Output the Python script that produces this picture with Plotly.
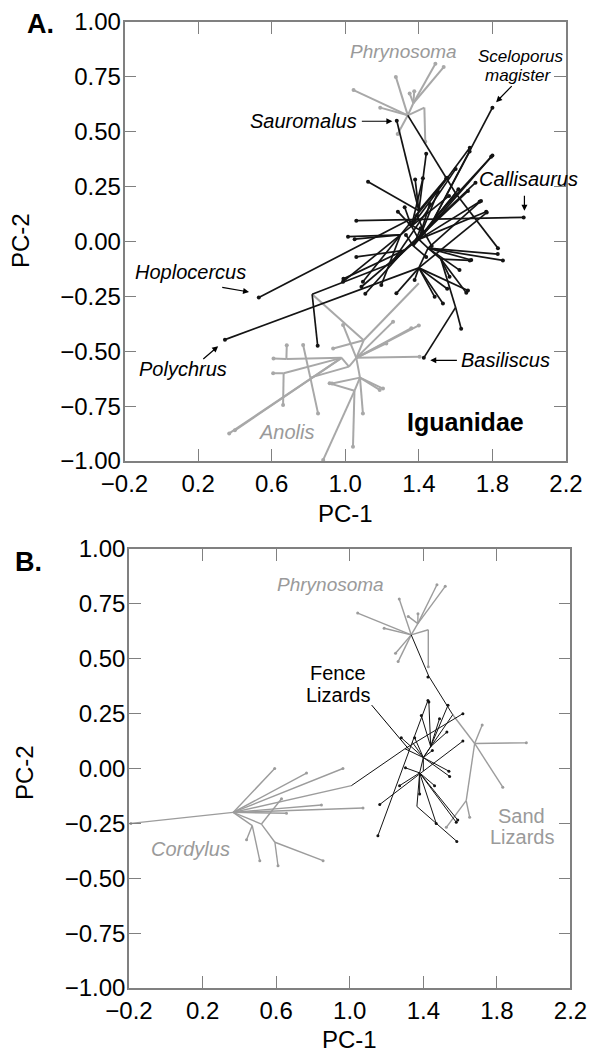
import plotly.graph_objects as go

# ---- Panel A (Iguanidae) : branches as (x0, y0, x1, y1) in PC space ----
# internal branches (no tip marker)
A_IGUANID_INTERNAL = [
    (1.40, 0.01, 1.36, 0.07), (1.40, 0.01, 1.45, -0.03), (1.40, 0.01, 1.32, -0.04),
    (1.36, 0.07, 1.40, 0.14), (1.36, 0.07, 1.35, 0.10), (1.36, 0.07, 1.30, 0.03),
    (1.45, -0.03, 1.52, -0.08), (1.45, -0.03, 1.40, -0.12), (1.40, 0.01, 1.48, 0.10),
    (1.34, 0.575, 1.60, 0.22), (1.60, 0.22, 1.48, 0.10), (1.52, -0.08, 1.60, -0.30),
    (1.32, -0.04, 1.25, -0.10), (1.25, -0.10, 0.82, -0.24),
    (1.40, 0.01, 1.43, 0.04), (1.40, 0.01, 1.37, -0.02),
]
# terminal branches (tip marker at second point)
A_IGUANID_LEAVES = [
    (1.48, 0.10, 1.80, 0.61), (1.48, 0.10, 1.793, 0.386), (1.48, 0.10, 1.676, 0.41),
    (1.60, 0.22, 1.83, -0.03),
    (1.40, 0.14, 1.28, 0.55), (1.40, 0.14, 1.44, 0.40), (1.40, 0.14, 1.124, 0.272),
    (1.40, 0.14, 1.549, 0.288), (1.40, 0.14, 1.38, 0.283),
    (1.35, 0.10, 1.97, 0.11), (1.35, 0.10, 1.06, 0.095), (1.35, 0.10, 0.53, -0.255),
    (1.36, 0.07, 1.286, 0.136), (1.36, 0.07, 1.323, 0.156), (1.36, 0.07, 1.422, 0.288),
    (1.36, 0.07, 1.677, 0.427), (1.36, 0.07, 1.564, 0.208),
    (1.30, 0.03, 1.015, 0.022), (1.30, 0.03, 1.096, -0.183), (1.30, 0.03, 0.988, -0.183),
    (1.30, 0.03, 1.196, -0.198), (1.30, 0.03, 1.554, 0.291), (1.30, 0.03, 1.051, 0.011),
    (1.40, 0.01, 1.459, 0.171), (1.40, 0.01, 1.504, 0.227), (1.40, 0.01, 1.73, 0.181),
    (1.40, 0.01, 1.766, 0.136), (1.40, 0.01, 1.80, 0.392), (1.40, 0.01, 1.615, 0.238),
    (1.43, 0.04, 1.35, 0.08), (1.43, 0.04, 1.47, -0.02), (1.43, 0.04, 1.39, 0.12),
    (1.37, -0.02, 1.33, 0.03), (1.37, -0.02, 1.44, -0.07), (1.37, -0.02, 1.41, 0.06),
    (1.45, -0.03, 1.829, -0.057), (1.45, -0.03, 1.685, -0.084), (1.45, -0.03, 1.621, -0.13),
    (1.45, -0.03, 1.857, -0.086), (1.45, -0.03, 1.738, 0.185),
    (1.52, -0.08, 1.567, -0.16), (1.52, -0.08, 1.658, -0.233), (1.52, -0.08, 1.677, -0.086),
    (1.60, -0.30, 1.427, -0.53), (1.60, -0.30, 1.63, -0.397),
    (1.40, -0.12, 0.346, -0.447), (1.40, -0.12, 1.278, -0.236), (1.40, -0.12, 1.377, -0.175),
    (1.40, -0.12, 1.486, -0.252), (1.40, -0.12, 1.531, -0.282), (1.40, -0.12, 1.554, -0.215),
    (1.40, -0.12, 1.667, -0.223), (1.40, -0.12, 1.769, 0.132),
    (1.32, -0.04, 1.06, -0.07), (1.32, -0.04, 1.109, -0.238), (1.32, -0.04, 0.99, -0.17),
    (1.32, -0.04, 1.708, 0.268), (1.32, -0.04, 1.088, -0.206),
    (1.25, -0.10, 1.667, 0.23), (1.25, -0.10, 1.60, 0.33),
    (0.82, -0.24, 0.85, -0.475),
]

A_ANOLIS_INTERNAL = [
    (0.82, -0.24, 1.10, -0.45), (1.10, -0.45, 1.06, -0.53), (1.06, -0.53, 1.02, -0.57),
    (1.06, -0.53, 1.08, -0.62), (1.02, -0.57, 0.98, -0.53), (1.08, -0.62, 1.05, -0.68),
    (1.10, -0.45, 1.40, -0.19), (0.98, -0.53, 0.68, -0.535), (0.98, -0.53, 0.665, -0.60),
    (1.02, -0.57, 0.81, -0.62),
]
A_ANOLIS_LEAVES = [
    (0.98, -0.53, 0.369, -0.874), (0.98, -0.53, 0.40, -0.86),
    (0.68, -0.535, 0.61, -0.533), (0.68, -0.535, 0.682, -0.473),
    (0.665, -0.60, 0.608, -0.60), (0.665, -0.60, 0.662, -0.745),
    (0.81, -0.62, 0.771, -0.471), (0.81, -0.62, 0.852, -0.783),
    (1.06, -0.53, 0.988, -0.38), (1.06, -0.53, 1.26, -0.365), (1.06, -0.53, 1.359, -0.395),
    (1.06, -0.53, 1.40, -0.382), (1.06, -0.53, 1.404, -0.525), (1.06, -0.53, 1.223, -0.464),
    (1.08, -0.62, 1.187, -0.676), (1.08, -0.62, 1.205, -0.67), (1.08, -0.62, 0.928, -0.647),
    (1.08, -0.62, 1.096, -0.783),
    (1.05, -0.68, 1.042, -0.935), (1.05, -0.68, 0.88, -0.995), (1.05, -0.68, 0.915, -0.646),
    (1.10, -0.45, 0.934, -0.487),
]

A_PHRYNO_INTERNAL = [
    (1.34, 0.575, 1.37, 0.63), (1.34, 0.575, 1.43, 0.61),
]
A_PHRYNO_LEAVES = [
    (1.34, 0.575, 1.045, 0.69), (1.34, 0.575, 1.275, 0.75), (1.34, 0.575, 1.19, 0.61),
    (1.34, 0.575, 1.285, 0.49),
    (1.37, 0.63, 1.49, 0.81), (1.37, 0.63, 1.535, 0.795), (1.37, 0.63, 1.375, 0.685),
    (1.37, 0.63, 1.35, 0.675),
    (1.43, 0.61, 1.435, 0.455),
]

# ---- Panel B ----
B_PHRYNO_INTERNAL = [
    (1.334, 0.609, 1.37, 0.66), (1.334, 0.609, 1.427, 0.632),
]
B_PHRYNO_LEAVES = [
    (1.334, 0.609, 1.043, 0.708), (1.334, 0.609, 1.269, 0.772), (1.334, 0.609, 1.187, 0.639),
    (1.334, 0.609, 1.249, 0.525), (1.334, 0.609, 1.263, 0.487),
    (1.37, 0.66, 1.474, 0.837), (1.37, 0.66, 1.519, 0.83), (1.37, 0.66, 1.371, 0.705),
    (1.37, 0.66, 1.318, 0.693),
    (1.427, 0.632, 1.427, 0.464),
]

B_FENCE_INTERNAL = [
    (1.334, 0.609, 1.43, 0.42), (1.43, 0.42, 1.56, 0.245), (1.56, 0.245, 1.40, 0.05),
    (1.009, -0.078, 1.30, 0.09), (1.30, 0.09, 1.40, 0.05), (1.40, -0.012, 1.40, 0.05),
    (1.40, 0.05, 1.38, -0.02), (1.40, 0.05, 1.44, 0.10), (1.34, 0.12, 1.40, 0.05),
    (1.38, -0.02, 1.365, -0.173),
]
B_FENCE_LEAVES = [
    (1.30, 0.09, 1.615, 0.25),
    (1.40, -0.012, 1.163, -0.164), (1.40, -0.012, 1.615, 0.125),
    (1.34, 0.12, 1.153, -0.306), (1.34, 0.12, 1.425, 0.31),
    (1.365, -0.173, 1.582, -0.332),
    (1.38, -0.02, 1.38, -0.116), (1.38, -0.02, 1.271, -0.078), (1.38, -0.02, 1.303, 0.003),
    (1.38, -0.02, 1.461, -0.078), (1.38, -0.02, 1.47, -0.25), (1.38, -0.02, 1.579, -0.245),
    (1.38, -0.02, 1.587, -0.235),
    (1.40, 0.05, 1.543, -0.036), (1.40, 0.05, 1.539, -0.012), (1.40, 0.05, 1.28, 0.14),
    (1.40, 0.05, 1.353, 0.14), (1.40, 0.05, 1.449, 0.082),
    (1.44, 0.10, 1.389, 0.242), (1.44, 0.10, 1.43, 0.303), (1.44, 0.10, 1.488, 0.227),
    (1.44, 0.10, 1.534, 0.288), (1.44, 0.10, 1.528, 0.166),
    (1.43, 0.42, 1.425, 0.417),
]

B_SAND_INTERNAL = [
    (1.56, 0.245, 1.679, 0.114), (1.679, 0.114, 1.633, -0.146),
]
B_SAND_LEAVES = [
    (1.679, 0.114, 1.96, 0.117), (1.679, 0.114, 1.72, 0.198), (1.679, 0.114, 1.832, -0.085),
    (1.633, -0.146, 1.525, -0.268), (1.633, -0.146, 1.652, -0.222),
]

B_CORDYLUS_INTERNAL = [
    (0.366, -0.2, 1.009, -0.078), (0.366, -0.2, 0.47, -0.26), (0.366, -0.2, 0.52, -0.253),
    (0.52, -0.253, 0.593, -0.336),
]
B_CORDYLUS_LEAVES = [
    (0.366, -0.2, -0.19, -0.25), (0.366, -0.2, 0.592, 0.0), (0.366, -0.2, 0.765, -0.021),
    (0.366, -0.2, 0.963, 0.0), (0.366, -0.2, 0.846, -0.166), (0.366, -0.2, 1.072, -0.18),
    (0.366, -0.2, 0.656, -0.204),
    (0.47, -0.26, 0.439, -0.325), (0.47, -0.26, 0.511, -0.42),
    (0.52, -0.253, 0.629, -0.138),
    (0.593, -0.336, 0.855, -0.42), (0.593, -0.336, 0.61, -0.443),
]

X_TICKS = [-0.2, 0.2, 0.6, 1.0, 1.4, 1.8, 2.2]
Y_TICKS = [-1.0, -0.75, -0.5, -0.25, 0.0, 0.25, 0.5, 0.75, 1.0]

BLACK = "#141414"
GREY = "#a8a8a8"
GREY_B = "#9c9c9c"
TEXT_GREY = "#9a9a9a"
AXIS_GREY = "#808080"
FONT = "Arial, Liberation Sans, sans-serif"


def add_tree(fig, internal, leaves, color, width, tip, xa, ya):
    xs, ys = [], []
    for x0, y0, x1, y1 in internal + leaves:
        xs += [x0, x1, None]
        ys += [y0, y1, None]
    fig.add_trace(go.Scatter(x=xs, y=ys, mode="lines", line=dict(color=color, width=width),
                             xaxis=xa, yaxis=ya, hoverinfo="skip"))
    fig.add_trace(go.Scatter(x=[e[2] for e in leaves], y=[e[3] for e in leaves], mode="markers",
                             marker=dict(color=color, size=tip), xaxis=xa, yaxis=ya,
                             hoverinfo="skip"))


fig = go.Figure()
add_tree(fig, A_ANOLIS_INTERNAL, A_ANOLIS_LEAVES, GREY, 2.0, 4, "x", "y")
add_tree(fig, A_PHRYNO_INTERNAL, A_PHRYNO_LEAVES, GREY, 2.0, 4, "x", "y")
add_tree(fig, A_IGUANID_INTERNAL, A_IGUANID_LEAVES, BLACK, 1.7, 4, "x", "y")
add_tree(fig, B_PHRYNO_INTERNAL, B_PHRYNO_LEAVES, GREY_B, 1.4, 3, "x2", "y2")
add_tree(fig, B_SAND_INTERNAL, B_SAND_LEAVES, GREY_B, 1.4, 3, "x2", "y2")
add_tree(fig, B_CORDYLUS_INTERNAL, B_CORDYLUS_LEAVES, GREY_B, 1.4, 3, "x2", "y2")
add_tree(fig, B_FENCE_INTERNAL, B_FENCE_LEAVES, BLACK, 1.0, 3, "x2", "y2")

axis_common = dict(showline=True, mirror="ticks", linecolor=AXIS_GREY, linewidth=1.5,
                   ticks="inside", ticklen=12, tickwidth=1.2, tickcolor=AXIS_GREY,
                   showgrid=False, zeroline=False, automargin=False,
                   tickfont=dict(family=FONT, size=24, color="black"))

fig.update_layout(
    width=591, height=1055, showlegend=False,
    margin=dict(l=0, r=0, t=0, b=0),
    plot_bgcolor="white", paper_bgcolor="white",
    xaxis=dict(domain=[0.2107, 0.9577], anchor="y", range=[-0.2, 2.2], tickvals=X_TICKS,
               tickformat=".1f", **axis_common),
    yaxis=dict(domain=[0.5630, 0.9791], anchor="x", range=[-1, 1], tickvals=Y_TICKS,
               tickformat=".2f", ticklabelstandoff=-3, **axis_common),
    xaxis2=dict(domain=[0.2183, 0.9653], anchor="y2", range=[-0.2, 2.2], tickvals=X_TICKS,
                tickformat=".1f", **axis_common),
    yaxis2=dict(domain=[0.0635, 0.4796], anchor="x2", range=[-1, 1], tickvals=Y_TICKS,
                tickformat=".2f", ticklabelstandoff=-3, **axis_common),
)


def label(text, x, y, xa, ya, size=20, color="black", italic=True, bold=False):
    t = text
    if italic:
        t = f"<i>{t}</i>"
    if bold:
        t = f"<b>{t}</b>"
    fig.add_annotation(x=x, y=y, xref=xa, yref=ya, text=t, showarrow=False,
                       xanchor="center", yanchor="middle",
                       font=dict(family=FONT, size=size, color=color))


def arrow(x0, y0, x1, y1, xa, ya):
    fig.add_annotation(x=x1, y=y1, ax=x0, ay=y0, xref=xa, yref=ya, axref=xa, ayref=ya,
                       text="", showarrow=True, arrowhead=2, arrowsize=1, arrowwidth=1.2,
                       arrowcolor="black")


# panel A labels
label("Phrynosoma", 1.318, 0.867, "x", "y", 19, TEXT_GREY)
label("Sceloporus", 1.954, 0.844, "x", "y", 17)
label("magister", 1.944, 0.756, "x", "y", 17)
arrow(1.913, 0.715, 1.82, 0.635, "x", "y")
label("Sauromalus", 0.774, 0.548, "x", "y")
arrow(1.082, 0.548, 1.256, 0.548, "x", "y")
label("Callisaurus", 1.995, 0.283, "x", "y")
arrow(1.974, 0.215, 1.974, 0.14, "x", "y")
label("Hoplocercus", 0.159, -0.139, "x", "y")
arrow(0.323, -0.208, 0.477, -0.23, "x", "y")
label("Polychrus", 0.118, -0.579, "x", "y")
arrow(0.22, -0.541, 0.309, -0.477, "x", "y")
label("Basiliscus", 1.872, -0.541, "x", "y")
arrow(1.615, -0.541, 1.462, -0.541, "x", "y")
label("Anolis", 0.682, -0.867, "x", "y", 20, TEXT_GREY)
label("Iguanidae", 1.656, -0.821, "x", "y", 25, italic=False, bold=True)

# panel B labels
label("Phrynosoma", 0.893, 0.837, "x2", "y2", 19, TEXT_GREY)
label("Fence", 0.934, 0.437, "x2", "y2", 20, italic=False)
label("Lizards", 0.934, 0.335, "x2", "y2", 20, italic=False)
fig.add_shape(type="line", x0=1.119, y0=0.289, x1=1.324, y1=0.085, xref="x2", yref="y2",
              line=dict(color="black", width=1))
label("Sand", 1.935, -0.215, "x2", "y2", 20, TEXT_GREY, italic=False)
label("Lizards", 1.935, -0.314, "x2", "y2", 20, TEXT_GREY, italic=False)
label("Cordylus", 0.134, -0.368, "x2", "y2", 20, TEXT_GREY)

# panel letters and axis titles, placed in pixels of the 591 x 1055 page
for text, px, py, size, bold, angle in [
    ("A.", 40, 24, 27, True, 0), ("B.", 29, 562, 27, True, 0),
    ("PC-2", 20, 241, 24, False, -90), ("PC-2", 24, 772, 24, False, -90),
    ("PC-1", 345, 514, 24, False, 0), ("PC-1", 349, 1039, 24, False, 0),
]:
    fig.add_annotation(x=px / 591, y=1 - py / 1055, xref="paper", yref="paper",
                       xanchor="center", yanchor="middle",
                       text=f"<b>{text}</b>" if bold else text, showarrow=False, textangle=angle,
                       font=dict(family=FONT, size=size, color="black"))

# the page's default body margin would shift the figure and add scrollbars
fig.write_html("out.html", config={"displayModeBar": False},
               post_script="document.body.style.margin='0';document.body.style.overflow='hidden';")
